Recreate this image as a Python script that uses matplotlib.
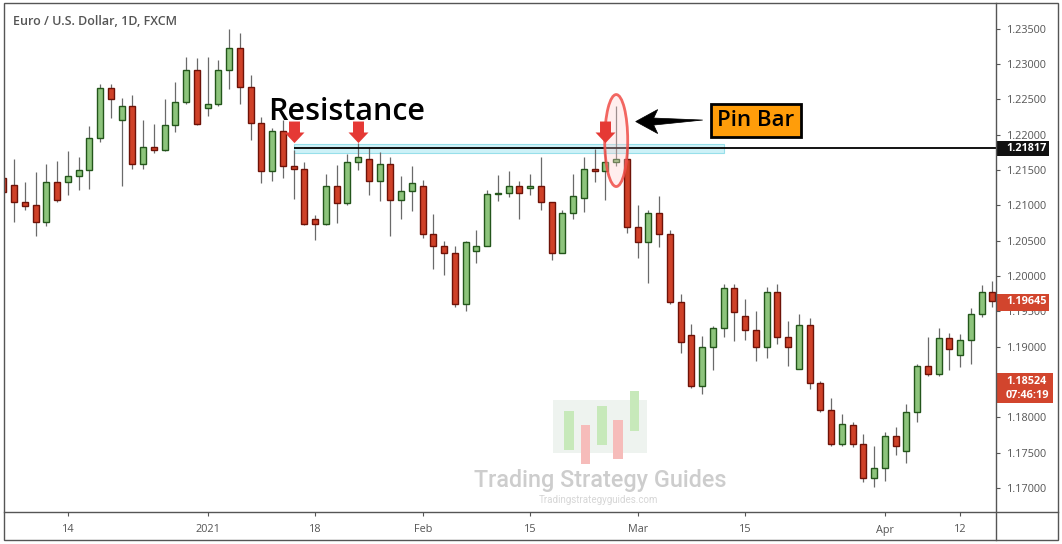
import numpy as np
import pandas as pd
import matplotlib
matplotlib.use("Agg")
import matplotlib.pyplot as plt
from matplotlib.patches import Rectangle, Ellipse, Polygon
from matplotlib.path import Path
from matplotlib.lines import Line2D

plt.rcParams["font.family"] = ["Open Sans", "DejaVu Sans"]

# daily EUR/USD candles, Dec 4 2020 .. Apr 15 2021 (no Dec 25 / Jan 1)
dates = pd.bdate_range("2020-12-04", "2021-04-15")
dates = dates[~dates.isin(pd.to_datetime(["2020-12-25", "2021-01-01"]))]

opens = [1.2139, 1.2129, 1.2104, 1.2100, 1.2077, 1.2133, 1.2133, 1.2142, 1.2150, 1.2195,
         1.2266, 1.2220, 1.2240, 1.2159, 1.2182, 1.2178, 1.2213, 1.2246, 1.2291, 1.2237,
         1.2243, 1.2291, 1.2322, 1.2268, 1.2216, 1.2148, 1.2205, 1.2155, 1.2151, 1.2081,
         1.2073, 1.2127, 1.2103, 1.2161, 1.2166, 1.2135, 1.2158, 1.2107, 1.2120, 1.2127,
         1.2059, 1.2042, 1.2033, 1.1960, 1.2035, 1.2043, 1.2116, 1.2117, 1.2127, 1.2124,
         1.2127, 1.2104, 1.2033, 1.2089, 1.2111, 1.2152, 1.2148, 1.2161, 1.2166, 1.2069,
         1.2048, 1.2089, 1.2060, 1.1963, 1.1916, 1.1845, 1.1899, 1.1927, 1.1983, 1.1943,
         1.1923, 1.1900, 1.1977, 1.1913, 1.1869, 1.1930, 1.1848, 1.1811, 1.1762, 1.1789,
         1.1763, 1.1714, 1.1729, 1.1774, 1.1753, 1.1808, 1.1872, 1.1861, 1.1912, 1.1888,
         1.1909, 1.1946, 1.1977]
highs = [1.2141, 1.2165, 1.2133, 1.2147, 1.2158, 1.2163, 1.2177, 1.2168, 1.2212, 1.2272,
         1.2272, 1.2252, 1.2256, 1.2221, 1.2215, 1.2250, 1.2274, 1.2310, 1.2308, 1.2310,
         1.2305, 1.2349, 1.2344, 1.2284, 1.2225, 1.2209, 1.2221, 1.2178, 1.2161, 1.2086,
         1.2144, 1.2157, 1.2173, 1.2188, 1.2182, 1.2175, 1.2169, 1.2141, 1.2156, 1.2136,
         1.2088, 1.2049, 1.2042, 1.2049, 1.2065, 1.2122, 1.2143, 1.2149, 1.2134, 1.2144,
         1.2168, 1.2105, 1.2093, 1.2144, 1.2168, 1.2180, 1.2178, 1.2241, 1.2183, 1.2100,
         1.2093, 1.2113, 1.2065, 1.1975, 1.1932, 1.1915, 1.1929, 1.1989, 1.1988, 1.1967,
         1.1950, 1.1985, 1.1989, 1.1936, 1.1946, 1.1940, 1.1852, 1.1827, 1.1805, 1.1793,
         1.1776, 1.1759, 1.1779, 1.1786, 1.1819, 1.1876, 1.1914, 1.1926, 1.1919, 1.1918,
         1.1955, 1.1987, 1.1993]
lows = [1.2116, 1.2077, 1.2093, 1.2057, 1.2071, 1.2104, 1.2114, 1.2121, 1.2123, 1.2189,
        1.2224, 1.2128, 1.2151, 1.2152, 1.2174, 1.2177, 1.2204, 1.2244, 1.2213, 1.2227,
        1.2240, 1.2264, 1.2244, 1.2192, 1.2131, 1.2135, 1.2138, 1.2109, 1.2072, 1.2051,
        1.2072, 1.2075, 1.2100, 1.2150, 1.2115, 1.2106, 1.2057, 1.2080, 1.2092, 1.2054,
        1.2010, 1.2002, 1.1956, 1.1951, 1.2019, 1.2042, 1.2106, 1.2112, 1.2080, 1.2115,
        1.2094, 1.2022, 1.2032, 1.2081, 1.2090, 1.2133, 1.2108, 1.2155, 1.2061, 1.2026,
        1.1990, 1.2041, 1.1960, 1.1891, 1.1842, 1.1833, 1.1867, 1.1914, 1.1908, 1.1910,
        1.1880, 1.1884, 1.1904, 1.1872, 1.1868, 1.1840, 1.1808, 1.1760, 1.1760, 1.1758,
        1.1709, 1.1702, 1.1710, 1.1747, 1.1736, 1.1794, 1.1859, 1.1859, 1.1867, 1.1871,
        1.1875, 1.1942, 1.1956]
closes = [1.2119, 1.2104, 1.2099, 1.2077, 1.2133, 1.2108, 1.2142, 1.2150, 1.2195, 1.2266,
          1.2251, 1.2240, 1.2159, 1.2182, 1.2178, 1.2213, 1.2246, 1.2291, 1.2215, 1.2243,
          1.2291, 1.2322, 1.2268, 1.2217, 1.2148, 1.2205, 1.2155, 1.2151, 1.2073, 1.2073,
          1.2127, 1.2103, 1.2161, 1.2169, 1.2135, 1.2158, 1.2107, 1.2120, 1.2131, 1.2059,
          1.2042, 1.2033, 1.1960, 1.2048, 1.2043, 1.2116, 1.2117, 1.2127, 1.2118, 1.2127,
          1.2104, 1.2033, 1.2089, 1.2113, 1.2152, 1.2148, 1.2161, 1.2166, 1.2069, 1.2048,
          1.2089, 1.2060, 1.1963, 1.1906, 1.1845, 1.1899, 1.1927, 1.1983, 1.1949, 1.1923,
          1.1900, 1.1977, 1.1913, 1.1900, 1.1930, 1.1848, 1.1811, 1.1762, 1.1791, 1.1763,
          1.1714, 1.1729, 1.1774, 1.1759, 1.1808, 1.1872, 1.1861, 1.1912, 1.1896, 1.1909,
          1.1946, 1.1977, 1.19645]

tick_dates = ["2020-12-14", "2021-01-04", "2021-01-18", "2021-02-01", "2021-02-15",
              "2021-03-01", "2021-03-15", "2021-04-01", "2021-04-12"]
tick_labels = ["14", "2021", "18", "Feb", "15", "Mar", "15", "Apr", "12"]
price_ticks = [1.170, 1.175, 1.180, 1.185, 1.190, 1.195, 1.200, 1.205,
               1.210, 1.215, 1.220, 1.225, 1.230, 1.235]
hidden_ticks = [1.185]   # sits under the live price tag

resistance = 1.21817
zone = (1.21744, 1.21870)
zone_dates = ("2021-01-14", "2021-03-11")   # start / end of the shaded band
touch_dates = ["2021-01-14", "2021-01-22", "2021-02-24"]
pin_date = "2021-02-25"
last_price = 1.19645
other_price = 1.18524
countdown = "07:46:19"

GREEN, GREEN_EDGE = "#8dc47c", "#23561b"
RED, RED_EDGE = "#cf4128", "#6e1208"
WICK = "#6a6a6a"
FRAME = "#555555"
TXT = "#555555"

W, H = 1062, 544
fx = lambda x: x / W
fy = lambda y: 1 - y / H

fig = plt.figure(figsize=(W / 100, H / 100), dpi=100)
ax = fig.add_axes([fx(4), fy(512), fx(996) - fx(4), fy(3) - fy(512)])
ax.set_facecolor("none")
xmin, xmax = 0.05, 92.33
ymin, ymax = 1.16661, 1.23862
ax.set_xlim(xmin, xmax)
ax.set_ylim(ymin, ymax)
for s in ax.spines.values():
    s.set_visible(False)

# pixel -> data helpers for the hand-drawn annotations
px_x = (xmax - xmin) / 992
px_y = (ymax - ymin) / 509

idx = np.arange(len(dates))
pos = {d: i for i, d in enumerate(dates)}
o, h, l, c = map(np.array, (opens, highs, lows, closes))
up = c >= o

# candles
ax.vlines(idx, l, h, color=WICK, lw=0.9, zorder=2)
body = np.maximum(np.abs(c - o), 0.00007)
ax.bar(idx, body, bottom=np.minimum(o, c), width=0.56,
       color=np.where(up, GREEN, RED), edgecolor=np.where(up, GREEN_EDGE, RED_EDGE),
       linewidth=1.0, zorder=3)

# resistance zone + line
z0, z1 = pos[pd.Timestamp(zone_dates[0])], pos[pd.Timestamp(zone_dates[1])]
ax.add_patch(Rectangle((z0, zone[0]), z1 - z0, zone[1] - zone[0],
                       facecolor="#cdf1f7", edgecolor="#97dfea", lw=0.8, zorder=1))
ax.hlines(resistance, z0, xmax, color="black", lw=1.3, zorder=4)

# red touch arrows
arrow = Path([(-5.5, 11), (5.5, 11), (5.5, 0), (10, 0), (0, -10.6), (-10, 0), (-5.5, 0), (-5.5, 11)],
             [Path.MOVETO] + [Path.LINETO] * 6 + [Path.CLOSEPOLY])
tx = [pos[pd.Timestamp(d)] for d in touch_dates]
ax.plot(tx, [resistance + 15.5 * px_y] * len(tx), ls="none", marker=arrow,
        markersize=15.8, color="#e53935", markeredgewidth=0, zorder=6)

# ellipse around the pin bar
pb = pos[pd.Timestamp(pin_date)]
ax.add_patch(Ellipse((pb, resistance + 7 * px_y), 23 * px_x, 92 * px_y,
                     facecolor=(1, 0.82, 0.82, 0.35), edgecolor=(0.94, 0.3, 0.28, 0.85),
                     lw=2.0, zorder=5))

# black pointer arrow
tip_x, tip_y = pb + 19.5 * px_x, resistance + 26 * px_y
shape = [(0, 0), (22, -12), (18, -3.5), (67, -1.5), (18, 3.5), (22, 12)]
ax.add_patch(Polygon([(tip_x + dx * px_x, tip_y - dy * px_y) for dx, dy in shape],
                     closed=True, facecolor="black", edgecolor="black", lw=0.5, zorder=6))

# labels
ax.text(24.6, resistance + 28 * px_y, "Resistance", fontsize=22, fontweight="semibold",
        color="black", ha="left", va="baseline", zorder=7)
ax.text(70.0, resistance + 27 * px_y, "Pin Bar", fontsize=16, fontweight="semibold",
        color="black", ha="center", va="center", zorder=7,
        bbox=dict(boxstyle="square,pad=0.28", facecolor="#ff9d0a", edgecolor="black", lw=2))

# axes ticks
ax.yaxis.tick_right()
ax.set_yticks(price_ticks)
ax.set_yticklabels(["" if p in hidden_ticks else f"{p:.5f}" for p in price_ticks])
ax.set_xticks([pos[pd.Timestamp(d)] for d in tick_dates])
ax.set_xticklabels(tick_labels)
ax.tick_params(axis="y", direction="out", length=3, width=0.8, colors=FRAME,
               labelcolor=TXT, labelsize=7.8, pad=5)
ax.tick_params(axis="x", direction="out", length=3, width=0.8, colors=FRAME,
               labelcolor=TXT, labelsize=7.8, pad=6)

# price tags on the right scale
tr = ax.get_yaxis_transform()


def price_tag(price, lines, color, up_px=7, down_px=9, width_px=53):
    ax.add_patch(Rectangle((1.0, price - down_px * px_y), width_px / 992, (up_px + down_px) * px_y,
                           transform=tr, facecolor=color, edgecolor="none", clip_on=False, zorder=8))
    n = len(lines)
    ax.text(1.0 + 10 / 992, price - (0.8 + 7.5 * (n - 1)) * px_y, "\n".join(lines),
            transform=tr, ha="left", va="center", color="white", fontsize=7.8,
            fontweight="bold", linespacing=1.38, clip_on=False, zorder=9)


price_tag(resistance, [f"{resistance:.5f}"], "#111111", up_px=6.6, down_px=8.4)
price_tag(last_price, [f"{last_price:.5f}"], "#d2452d", up_px=6.8, down_px=9.6)
price_tag(other_price, [f"{other_price:.5f}", countdown], "#d2452d", up_px=7, down_px=22.4, width_px=57)

# frame
fig.add_artist(Rectangle((fx(4), fy(540)), fx(1058) - fx(4), fy(3) - fy(540),
                         transform=fig.transFigure, fill=False, edgecolor=FRAME, lw=1.0))
fig.add_artist(Line2D([fx(996), fx(996)], [fy(3), fy(540)], color=FRAME, lw=1.0))
fig.add_artist(Line2D([fx(4), fx(1058)], [fy(512), fy(512)], color=FRAME, lw=1.0))

fig.text(fx(13), fy(25), "Euro / U.S. Dollar, 1D, FXCM", fontsize=9,
         fontweight="semibold", color="#555555", ha="left", va="baseline")

# watermark
def fig_rect(x0, y0, x1, y1, color):
    fig.add_artist(Rectangle((fx(x0), fy(y1)), (x1 - x0) / W, (y1 - y0) / H,
                             transform=fig.transFigure, facecolor=color, edgecolor="none", zorder=-1))


fig_rect(553, 400, 647, 453, "#eef3ef")
for x0, y0, y1, col in [(564, 411, 450, "#c7e9ba"), (580.5, 425, 464, "#f6bcba"),
                        (597, 406, 445, "#c7e9ba"), (613, 420, 459, "#f6bcba"),
                        (629.5, 391, 431, "#c7e9ba")]:
    fig_rect(x0, y0, x0 + 9.5, y1, col)
fig.text(fx(600), fy(487), "Trading Strategy Guides", fontsize=16.8, color="#cdcdcd",
         family=["Roboto", "DejaVu Sans"], fontweight="medium", ha="center", va="baseline", zorder=-1)
fig.text(fx(598), fy(503), "Tradingstrategyguides.com", fontsize=7, color="#d6d6d6",
         family=["Roboto", "DejaVu Sans"], ha="center", va="baseline", zorder=-1)

fig.savefig("out.png", dpi=100, facecolor="white")
